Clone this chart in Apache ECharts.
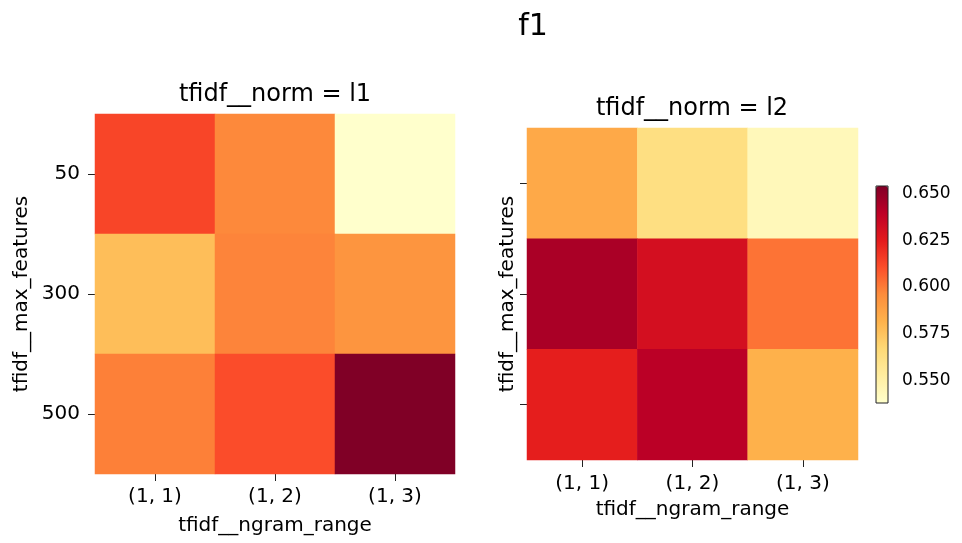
<!DOCTYPE html>
<html>
<head>
<meta charset="utf-8">
<script src="https://cdn.jsdelivr.net/npm/echarts@6/dist/echarts.min.js"></script>
<style>html,body{margin:0;padding:0;background:#fff}#c{width:962px;height:543px}</style>
</head>
<body>
<div id="c"></div>
<script>
const xCats = ['(1, 1)', '(1, 2)', '(1, 3)'];
const yCats = ['50', '300', '500'];
// rows follow yCats, columns follow xCats
const f1L1 = [
  [0.613, 0.597, 0.538],
  [0.577, 0.598, 0.593],
  [0.599, 0.611, 0.654]
];
const f1L2 = [
  [0.585, 0.563, 0.544],
  [0.644, 0.631, 0.602],
  [0.624, 0.640, 0.582]
];
const cbTicks = [0.550, 0.575, 0.600, 0.625, 0.650];
const ylorrd = ['#ffffcc', '#ffeda0', '#fed976', '#feb24c', '#fd8d3c', '#fc4e2a', '#e31a1c', '#bd0026', '#800026'];

const FONT = '"DejaVu Sans", sans-serif';
function toCells(m) {
  const out = [];
  m.forEach((row, yi) => row.forEach((v, xi) => out.push([xi, yi, v])));
  return out;
}
const allVals = f1L1.flat().concat(f1L2.flat());
const vmin = Math.min(...allVals);
const vmax = Math.max(...allVals);

function catX(gi, gap, margin) {
  return {
    type: 'category', gridIndex: gi, data: xCats, position: 'bottom',
    axisLine: { show: false },
    axisTick: { show: true, alignWithLabel: true, length: 7, lineStyle: { color: '#222', width: 1 } },
    axisLabel: { fontSize: 20, fontFamily: FONT, color: '#000', margin: margin },
    splitLine: { show: false }, splitArea: { show: false },
    name: 'tfidf__ngram_range', nameLocation: 'middle', nameGap: gap,
    nameTextStyle: { fontSize: 20, fontFamily: FONT, color: '#000' }
  };
}
function catY(gi, gap, showLabel) {
  return {
    type: 'category', gridIndex: gi, data: yCats, inverse: true,
    axisLine: { show: false },
    axisTick: { show: true, alignWithLabel: true, length: 7, lineStyle: { color: '#222', width: 1 } },
    axisLabel: { show: showLabel, fontSize: 20, fontFamily: FONT, color: '#000', margin: 15 },
    splitLine: { show: false }, splitArea: { show: false },
    name: 'tfidf__max_features', nameLocation: 'middle', nameGap: gap,
    nameTextStyle: { fontSize: 20, fontFamily: FONT, color: '#000' }
  };
}

const chart = echarts.init(document.getElementById('c'), null, { renderer: 'canvas' });
chart.setOption({
  animation: false,
  backgroundColor: '#fff',
  graphic: [
    { type: 'text', style: { text: 'f1', x: 533, y: 27, font: '30px ' + FONT, fill: '#000', textAlign: 'center', textVerticalAlign: 'middle', align: 'center', verticalAlign: 'middle' } },
    { type: 'text', style: { text: 'tfidf__norm = l1', x: 275, y: 94.5, font: '24px ' + FONT, fill: '#000', textAlign: 'center', textVerticalAlign: 'middle', align: 'center', verticalAlign: 'middle' } },
    { type: 'text', style: { text: 'tfidf__norm = l2', x: 692, y: 108.5, font: '24px ' + FONT, fill: '#000', textAlign: 'center', textVerticalAlign: 'middle', align: 'center', verticalAlign: 'middle' } }
  ],
  grid: [
    { left: 95, top: 114, width: 360, height: 360 },
    { left: 527, top: 128, width: 331, height: 332 },
    { left: 876, top: 186, width: 12, height: 217, show: true, borderColor: '#222', borderWidth: 1, backgroundColor: 'transparent', z: 10 }
  ],
  xAxis: [
    catX(0, 42, 13),
    catX(1, 40, 13.5),
    { type: 'value', gridIndex: 2, show: false, min: 0, max: 1 }
  ],
  yAxis: [
    catY(0, 63, true),
    catY(1, 9, false),
    {
      type: 'value', gridIndex: 2, position: 'right', min: vmin, max: vmax,
      axisLine: { show: false },
      splitLine: { show: false },
      axisTick: { show: true, length: 7, customValues: cbTicks, lineStyle: { color: '#222', width: 1 } },
      axisLabel: { show: true, customValues: cbTicks, margin: 14, fontSize: 17, fontFamily: FONT, color: '#000', formatter: v => v.toFixed(3) }
    }
  ],
  visualMap: {
    type: 'continuous', min: vmin, max: vmax, seriesIndex: [0, 1],
    left: 876, top: 186, itemWidth: 12, itemHeight: 217, padding: 0,
    calculable: false, hoverLink: false, orient: 'vertical',
    inRange: { color: ylorrd }
  },
  series: [
    { type: 'heatmap', xAxisIndex: 0, yAxisIndex: 0, data: toCells(f1L1), itemStyle: { borderWidth: 0 }, emphasis: { disabled: true } },
    { type: 'heatmap', xAxisIndex: 1, yAxisIndex: 1, data: toCells(f1L2), itemStyle: { borderWidth: 0 }, emphasis: { disabled: true } }
  ]
});
</script>
</body>
</html>
